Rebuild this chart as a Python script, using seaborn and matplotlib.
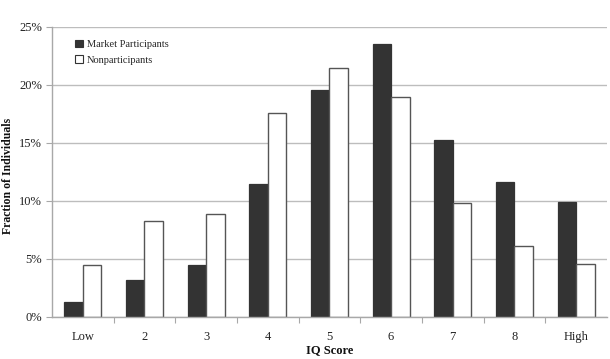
import matplotlib
matplotlib.use("Agg")
import matplotlib.pyplot as plt
import seaborn as sns
import pandas as pd
from matplotlib.ticker import FuncFormatter, FixedLocator

categories = ["Low", "2", "3", "4", "5", "6", "7", "8", "High"]
market_participants = [1.25, 3.15, 4.5, 11.45, 19.6, 23.5, 15.25, 11.6, 9.95]
nonparticipants = [4.45, 8.25, 8.85, 17.6, 21.5, 18.95, 9.85, 6.15, 4.55]
series_names = ["Market Participants", "Nonparticipants"]

df = pd.DataFrame({
    "IQ": categories * 2,
    "value": market_participants + nonparticipants,
    "group": [series_names[0]] * len(categories) + [series_names[1]] * len(categories),
})

sns.set_theme(style="white")
plt.rcParams["font.family"] = ["Liberation Serif", "DejaVu Serif"]

fig, ax = plt.subplots(figsize=(6.1, 3.59), dpi=100)
fig.subplots_adjust(left=0.085, right=0.995, bottom=0.117, top=0.925)

sns.barplot(data=df, x="IQ", y="value", hue="group", order=categories,
            hue_order=series_names, palette=["#333333", "#ffffff"],
            width=0.6, saturation=1, edgecolor="#333333", linewidth=0.9, ax=ax)

for i, patch in enumerate(ax.patches[:2 * len(categories)]):
    if i >= len(categories):
        patch.set_edgecolor("#555555")
        patch.set_linewidth(1.0)

ax.set_xlim(-0.5, len(categories) - 0.5)
ax.set_ylim(0, 25)
ax.set_yticks([0, 5, 10, 15, 20, 25])
ax.yaxis.set_major_formatter(FuncFormatter(lambda v, p: f"{int(v)}%"))
ax.yaxis.grid(True, color="#bdbdbd", linewidth=1.0)
ax.set_axisbelow(True)

for s in ["top", "right"]:
    ax.spines[s].set_visible(False)
for s in ["left", "bottom"]:
    ax.spines[s].set_color("#a8a8a8")
    ax.spines[s].set_linewidth(1.0)

ax.xaxis.set_minor_locator(FixedLocator([i + 0.5 for i in range(len(categories) - 1)]))
ax.tick_params(axis="x", which="major", length=0, labelsize=9, pad=10, colors="#222222")
ax.tick_params(axis="x", which="minor", bottom=True, length=4, width=0.8, color="#a8a8a8")
ax.tick_params(axis="y", which="major", left=True, length=4, width=0.8, color="#a8a8a8",
               labelsize=9, pad=3, labelcolor="#222222")

ax.set_xlabel("IQ Score", fontsize=9, fontweight="bold", labelpad=1, color="#111111")
ax.set_ylabel("Fraction of Individuals", fontsize=8.5, fontweight="bold", color="#111111")
ax.yaxis.set_label_coords(-0.068, 0.488)

leg = ax.legend(loc="upper left", bbox_to_anchor=(0.035, 0.97), frameon=False,
                fontsize=7.5, handlelength=0.7, handleheight=0.7, handletextpad=0.4,
                labelspacing=0.6, borderaxespad=0)
for h in leg.legend_handles:
    h.set_linewidth(0.8)

fig.savefig("out.png", dpi=100)
